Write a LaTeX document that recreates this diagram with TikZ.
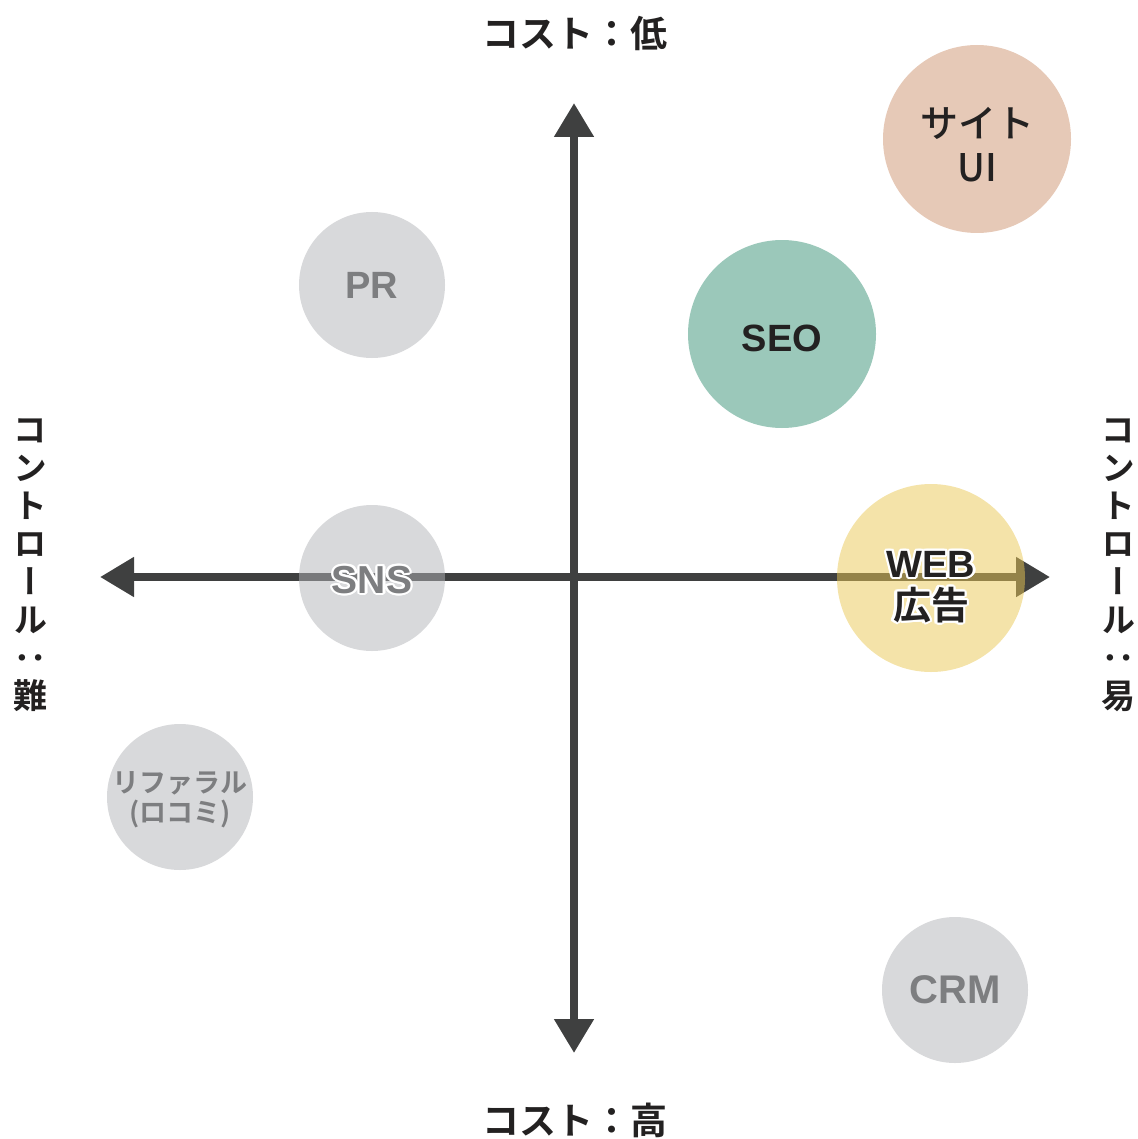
\documentclass[tikz,border=0pt]{standalone}
\usepackage{fontspec}
\usepackage{xcolor}
\usepackage{contour}
\usetikzlibrary{arrows.meta}
\newfontfamily\jpfont{Noto Sans CJK JP}[UprightFont={* Medium}, BoldFont={* Bold}]
\newfontfamily\jpvfont{Noto Sans CJK JP}[UprightFont={* Bold}, RawFeature=+vert]
\newfontfamily\latfont{Liberation Sans}
\definecolor{axisgray}{RGB}{63,64,64}
\definecolor{textdark}{RGB}{35,33,33}
\definecolor{textgray}{RGB}{125,126,128}
\definecolor{chgray}{RGB}{177,179,183}
\definecolor{chyellow}{RGB}{233,199,83}
\definecolor{chgreen}{RGB}{55,145,117}
\definecolor{chpink}{RGB}{205,147,111}
\contourlength{1.1pt}
\tikzset{
	chbig/.style={circle, inner sep=0pt, minimum size=94pt, fill opacity=0.5},
	chsmall/.style={circle, inner sep=0pt, minimum size=73pt, fill=chgray, fill opacity=0.5},
	chtext/.style={align=center, inner sep=0pt, text=textdark},
	chgraytext/.style={align=center, inner sep=0pt, text=textgray},
	axislabel/.style={font=\jpfont\bfseries\fontsize{18.5pt}{20pt}\selectfont, text=textdark},
	vlabel/.style={font=\jpvfont\fontsize{17pt}{19pt}\selectfont, text=textdark, align=center, inner sep=0pt}
}

\begin{document}
\begin{tikzpicture}[x=0.5pt, y=-0.5pt]
				\useasboundingbox (0,0) rectangle (1138,1139);
				\coordinate (top) at (574,103);
				\coordinate (bottom) at (574,1053);
				\coordinate (left) at (100,577);
				\coordinate (right) at (1050,577);
				\draw[axisgray, line width=4pt, {Triangle[width=19pt,length=17pt]}-{Triangle[width=19pt,length=17pt]}] (left) -- (right);
				\draw[axisgray, line width=4pt, {Triangle[width=19pt,length=17pt]}-{Triangle[width=19pt,length=17pt]}] (bottom) -- (top);
				\node[chbig, fill=chpink] (siteui) at (977,139) {};
				\node[chbig, fill=chgreen] (seo) at (782,334) {};
				\node[chbig, fill=chyellow] (webad) at (931,578) {};
				\node[chsmall] (pr) at (372,285) {};
				\node[chsmall] (sns) at (372,578) {};
				\node[chsmall] (referral) at (180,797) {};
				\node[chsmall] (crm) at (955,990) {};
				\node[chtext, font=\jpfont\fontsize{19pt}{22pt}\selectfont] (siteuitext) at ([yshift=-3pt]siteui) {サイト\\UI};
				\node[chtext, font=\latfont\bfseries\fontsize{19pt}{21pt}\selectfont] (seotext) at ([yshift=-2pt]seo) {SEO};
				\node[chtext, font=\jpfont\bfseries\fontsize{19pt}{21pt}\selectfont] (webadtext) at ([yshift=-5pt]webad) {\contour{white}{\latfont WEB}\\\contour{white}{広告}};
				\node[chgraytext, font=\latfont\bfseries\fontsize{19pt}{21pt}\selectfont] (prtext) at (pr) {PR};
				\node[chgraytext, font=\latfont\bfseries\fontsize{19.5pt}{21pt}\selectfont] (snstext) at ([yshift=-1.5pt]sns) {\contour{white}{SNS}};
				\node[chgraytext, font=\jpfont\bfseries\fontsize{13.5pt}{15pt}\selectfont] (referraltext) at ([yshift=-1.5pt]referral) {リファラル\\(ロコミ)};
				\node[chgraytext, font=\latfont\bfseries\fontsize{20pt}{21pt}\selectfont] (crmtext) at (crm) {CRM};
				\node[axislabel] (costlow) at (575,33) {コスト：低};
				\node[axislabel] (costhigh) at (575,1120) {コスト：高};
				\node[vlabel] (ctrlhard) at (30,565) {コ\\ン\\ト\\ロ\\ー\\ル\\：\\難};
				\node[vlabel] (ctrleasy) at (1118,565) {コ\\ン\\ト\\ロ\\ー\\ル\\：\\易};
			\end{tikzpicture}
\end{document}
